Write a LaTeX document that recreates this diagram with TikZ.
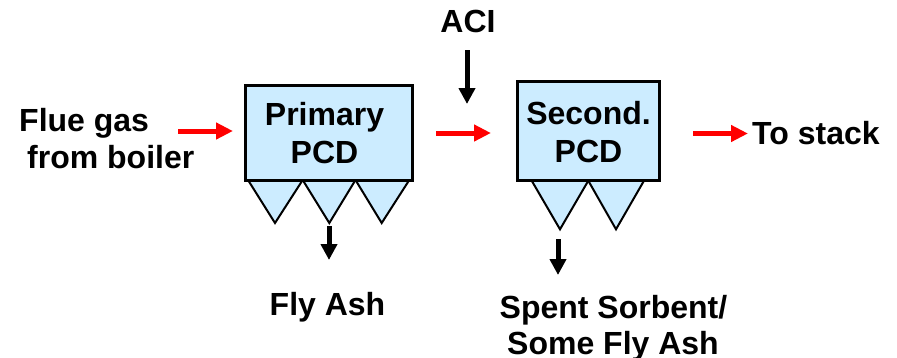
\documentclass[tikz,border=0pt]{standalone}
\usepackage{fontspec}
\setmainfont{Liberation Sans}
\usetikzlibrary{arrows.meta}
\definecolor{pcdblue}{RGB}{204,236,255}
\tikzset{
  lbl/.style={font=\bfseries\fontsize{32}{37}\selectfont, inner sep=0pt, anchor=base},
  pcdbox/.style={draw=black, line width=3pt, fill=pcdblue},
  hopper/.style={draw=black, line width=2pt, fill=pcdblue, line join=miter},
  redarrow/.style={draw=red, line width=5pt, -{Triangle[length=17pt,width=16pt]}},
  blackarrow/.style={draw=black, line width=5pt, -{Triangle[length=16pt,width=16pt]}}
}
\begin{document}
\begin{tikzpicture}[x=1pt,y=-1pt]
\useasboundingbox (0,0) rectangle (897,357);
% hoppers (primary)
\draw[hopper] (248,180) -- (275,223) -- (302.7,180) -- cycle;
\draw[hopper] (302.7,180) -- (329.3,223) -- (355.5,180) -- cycle;
\draw[hopper] (355.5,180) -- (381.7,223) -- (409.3,180) -- cycle;
% hoppers (secondary)
\draw[hopper] (531.7,180.7) -- (560,229.3) -- (588.3,180.7) -- cycle;
\draw[hopper] (588.3,180.7) -- (616,229.3) -- (644,180.7) -- cycle;
% boxes
\path[pcdbox] (245,85.5) rectangle (412,180);
\node (p1) at (328.5,132.75) {};
\path[pcdbox] (517.3,81.7) rectangle (659,180.7);
\node (p2) at (588.2,131.2) {};
% box texts
\node[lbl] (t1a) at (324.5,125) {Primary};
\node[lbl] (t1b) at (324.5,163) {PCD};
\node[lbl] (t2a) at (588.5,124) {Second.};
\node[lbl] (t2b) at (588.5,162) {PCD};
% outer labels
\node[lbl, anchor=base west] (flue1) at (19,131) {Flue gas};
\node[lbl, anchor=base west] (flue2) at (27,168) {from boiler};
\node[lbl] (aci) at (468,32) {ACI};
\node[lbl, anchor=base west] (stack) at (752,144) {To stack};
\node[lbl] (fly) at (327.5,315) {Fly Ash};
\node[lbl] (spent1) at (613.5,318) {Spent Sorbent/};
\node[lbl] (spent2) at (613,354) {Some Fly Ash};
% arrow endpoints
\coordinate (in1) at (178,131);
\coordinate (in2) at (233,131);
\coordinate (mid1) at (436,133);
\coordinate (mid2) at (491,133);
\coordinate (out1) at (693,133.5);
\coordinate (out2) at (748,133.5);
\coordinate (aci1) at (467,50);
\coordinate (aci2) at (467,104);
\coordinate (ash1) at (329,226);
\coordinate (ash2) at (329,260);
\coordinate (sp1) at (558,239);
\coordinate (sp2) at (558,275);
% arrows
\draw[redarrow] (in1) -- (in2);
\draw[redarrow] (mid1) -- (mid2);
\draw[redarrow] (out1) -- (out2);
\draw[blackarrow] (aci1) -- (aci2);
\draw[blackarrow] (ash1) -- (ash2);
\draw[blackarrow] (sp1) -- (sp2);
\end{tikzpicture}
\end{document}
